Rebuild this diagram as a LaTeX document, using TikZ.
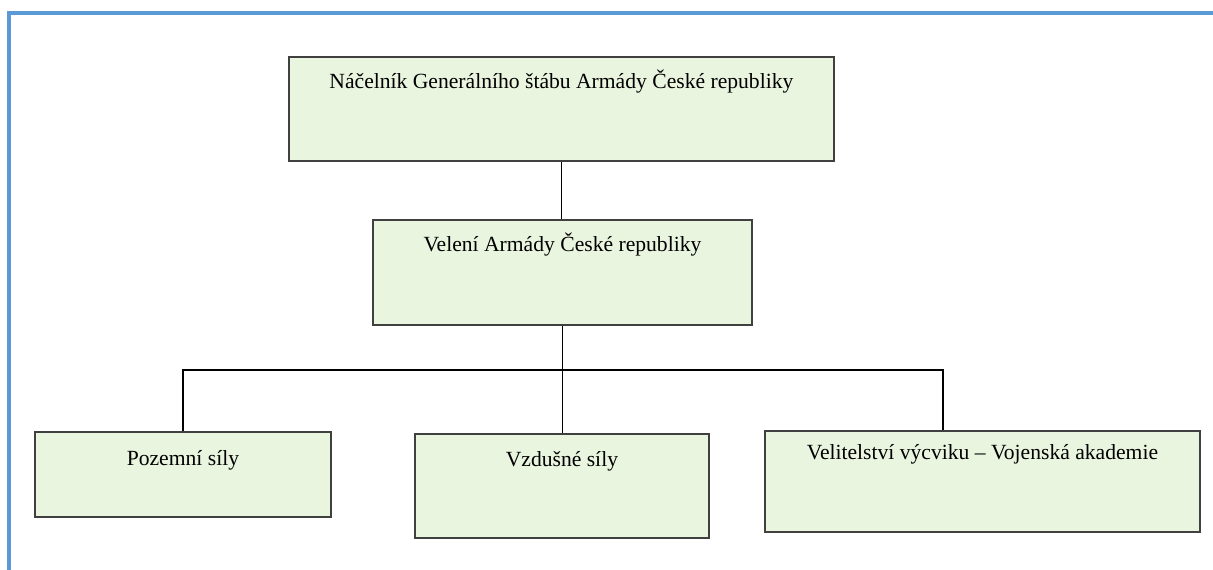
\documentclass[tikz,border=0pt]{standalone}
\usepackage{fontspec}
\setmainfont{Liberation Serif}
\usetikzlibrary{positioning}

\begin{document}
\begin{tikzpicture}[x=0.02cm, y=-0.02cm,
        unit/.style={draw=black!75, line width=1.1pt, fill=green!35!olive!12, inner sep=0pt,
            anchor=north west, align=center, font=\fontsize{12.3}{14}\selectfont},
        link/.style={line width=0.8pt},
        frame/.style={draw={rgb,255:red,91;green,155;blue,213}, line width=2.3pt}]
        \useasboundingbox (0,0) rectangle (1213,570);

        % Frame
        \draw[frame] (9,570) -- (9,13) -- (1213,13);

        % Top levels
        \node[unit, minimum width=10.9cm, text height=0.64cm, text depth=1.44cm] (chief) at (288,56)
            {Náčelník Generálního štábu Armády České republiky};
        \node[unit, minimum width=7.58cm, text height=0.64cm, text depth=1.46cm] (command) at (372,219)
            {Velení Armády České republiky};

        % Forces
        \node[unit, minimum width=5.92cm, text height=0.68cm, text depth=1.02cm] (ground) at (34,431)
            {Pozemní síly};
        \node[unit, minimum width=5.88cm, text height=0.66cm, text depth=1.42cm] (air) at (414,433)
            {Vzdušné síly};
        \node[unit, minimum width=8.7cm, text height=0.58cm, text depth=1.44cm] (training) at (764,430)
            {Velitelství výcviku -- Vojenská akademie};

        % Links
        \coordinate (busl) at (183,370);
        \coordinate (busr) at (943,370);

        \draw[link] (chief.south) -- (chief.south |- command.north);
        \draw[link] (command.south) -- (command.south |- air.north);
        \draw[link] (busl |- ground.north) -- (busl) -- (busr) -- (busr |- training.north);
\end{tikzpicture}
\end{document}
